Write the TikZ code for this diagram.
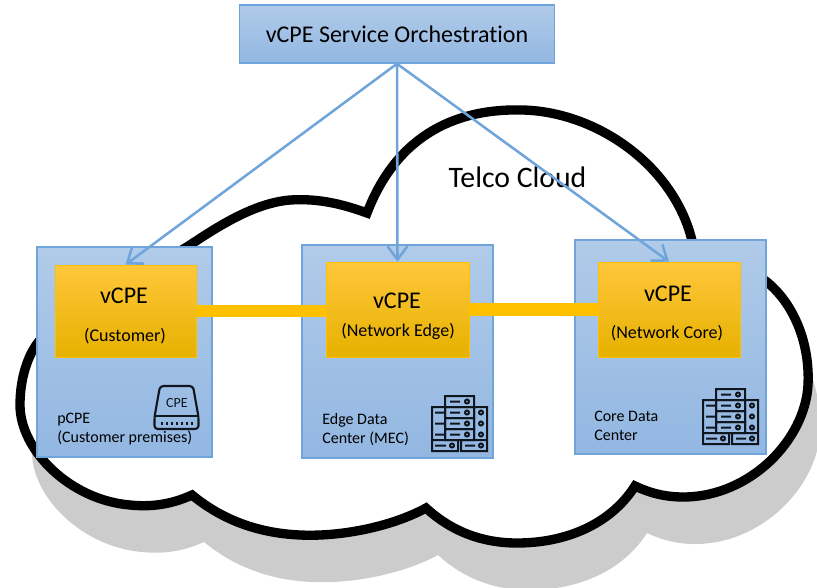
\documentclass[tikz,border=0pt]{standalone}
\usepackage{fontspec}
\setmainfont[Ligatures=NoCommon]{Carlito}
\usepackage{xcolor}
\usetikzlibrary{arrows.meta}

\definecolor{boxblue}{HTML}{6FA5DB}
\definecolor{boxtop}{HTML}{B1CBE9}
\definecolor{boxbottom}{HTML}{92B7E2}
\definecolor{vcpetop}{HTML}{FFC73B}
\definecolor{vcpemid}{HTML}{FFC000}
\definecolor{vcpebottom}{HTML}{E6B100}
\definecolor{icondark}{HTML}{10161E}

\def\cloudpath{(367,213) .. controls (395,140) and (450,108) .. (523,110)
  .. controls (600,112) and (680,170) .. (694,250)
  .. controls (720,258) and (745,265) .. (767,282)
  .. controls (795,305) and (810,345) .. (808,385)
  .. controls (805,440) and (750,497) .. (683,497)
  .. controls (665,497) and (650,493) .. (635,486)
  .. controls (610,525) and (565,543) .. (517,543)
  .. controls (480,543) and (450,530) .. (426,508)
  .. controls (395,525) and (345,537) .. (300,535)
  .. controls (255,533) and (220,518) .. (192,495)
  .. controls (170,505) and (150,507) .. (130,505)
  .. controls (70,500) and (20,450) .. (20,405)
  .. controls (20,380) and (27,355) .. (40,340)
  .. controls (80,300) and (150,270) .. (190,245)
  .. controls (220,225) and (255,203) .. (290,200)
  .. controls (320,198) and (345,205) .. (367,213) -- cycle}

\tikzset{
  bluebox/.style={draw=boxblue, line width=1.1pt, top color=boxtop, bottom color=boxbottom, inner sep=0pt},
  vcpebox/.style={draw=vcpemid, line width=.5pt, top color=vcpetop, middle color=vcpemid, bottom color=vcpebottom, inner sep=0pt},
  boxsize/.style 2 args={minimum width=#1*0.75pt, minimum height=#2*0.75pt},
  bigtext/.style={font=\fontsize{18}{20}\selectfont, inner sep=0pt},
  subtext/.style={font=\fontsize{13.5}{15}\selectfont, inner sep=0pt},
  smalltext/.style={font=\fontsize{12}{14.2}\selectfont, align=left, anchor=west, inner sep=0pt},
  orchlink/.style={draw=boxblue, line width=1.9pt, -{Straight Barb[length=10pt,width=15pt]}},
  yellowlink/.style={draw=vcpemid, line width=9.4pt},
  server/.pic={
    \draw[icondark, line width=1.5pt] (0,11) rectangle (13,44) (42,11) rectangle (55,44)
      (0,44) rectangle (26,55) (29,44) rectangle (55,55)
      (3,49.5) -- (14,49.5) (33,49.5) -- (43,49.5)
      (20,49.5) circle (2) (49,49.5) circle (2);
    \foreach \y in {11,22,33} {
      \draw[icondark, line width=1.5pt] (3,\y+5.5) -- (13,\y+5.5) (49,\y+5.5) circle (2);
    }
    \foreach \y in {0,11,22,33} {
      \draw[icondark, line width=1.5pt] (13,\y) rectangle (42,\y+11)
        (18,\y+5.5) -- (28,\y+5.5) (35,\y+5.5) circle (2);
    }
  },
  cpedisk/.pic={
    \draw[icondark, line width=1.6pt, rounded corners=2.5pt] (5.5,0) -- (38.5,0) -- (44,31) -- (44,43) -- (0,43) -- (0,31) -- cycle;
    \draw[icondark, line width=1.6pt] (0.5,30) -- (43.5,30);
    \foreach \x in {7.5,12.5,...,37.5} {
      \fill[icondark] (\x-1.2,36) rectangle (\x+1.2,38.5);
    }
  }
}

\begin{document}
\begin{tikzpicture}[x=0.75pt,y=-0.75pt]
\clip (0,0) rectangle (817,587);
\useasboundingbox (0,0) rectangle (817,587);

% cloud and its shadow
\fill[black!20, shift={(12,47)}] \cloudpath;
\draw[black, fill=white, line width=7pt, line join=miter] \cloudpath;
\node[font=\fontsize{22.3}{24}\selectfont, inner sep=0pt] (telco) at (517.5,177) {Telco Cloud};

% the three sites
\node[bluebox, boxsize={175}{210}] (pcpe) at (124.5,352) {};
\node[bluebox, boxsize={191}{213}] (edge) at (397.5,351.5) {};
\node[bluebox, boxsize={191}{214}] (core) at (670.5,347) {};
\node[bluebox, boxsize={315.5}{58}, bigtext] (orch) at (397,34) {vCPE Service Orchestration};

\node[vcpebox, boxsize={141}{92}] (customer) at (125.5,311) {};
\node[vcpebox, boxsize={143}{95}] (netedge) at (397.5,309.5) {};
\node[vcpebox, boxsize={142}{95}] (netcore) at (669,309.5) {};

\draw[yellowlink] (customer.east) -- (customer.east -| netedge.west);
\draw[yellowlink] (netedge.east) -- (netcore.west);

\node[bigtext] (customer1) at (124,296) {vCPE};
\node[subtext] (customer2) at (125,336) {(Customer)};
\node[bigtext] (netedge1) at (397,301) {vCPE};
\node[subtext] (netedge2) at (398,331) {(Network Edge)};
\node[bigtext] (netcore1) at (668,294) {vCPE};
\node[subtext] (netcore2) at (667,333) {(Network Core)};

\node[smalltext] (pcpelabel) at (57,429.5) {pCPE\\(Customer premises)};
\node[smalltext] (edgelabel) at (322,429.5) {Edge Data\\Center (MEC)};
\node[smalltext] (corelabel) at (594,425.5) {Core Data\\Center};

% icons
\pic at (154.5,386) {cpedisk};
\node[font=\fontsize{10.5}{12}\selectfont, text=icondark, inner sep=0pt] (cpetag) at (177,403) {CPE};
\pic at (432,396) {server};
\pic at (703,389) {server};

\draw[orchlink] (orch.south) -- (customer.north);
\draw[orchlink] (orch.south) -- (netedge.north);
\draw[orchlink] (orch.south) -- (netcore.north);
\end{tikzpicture}
\end{document}
